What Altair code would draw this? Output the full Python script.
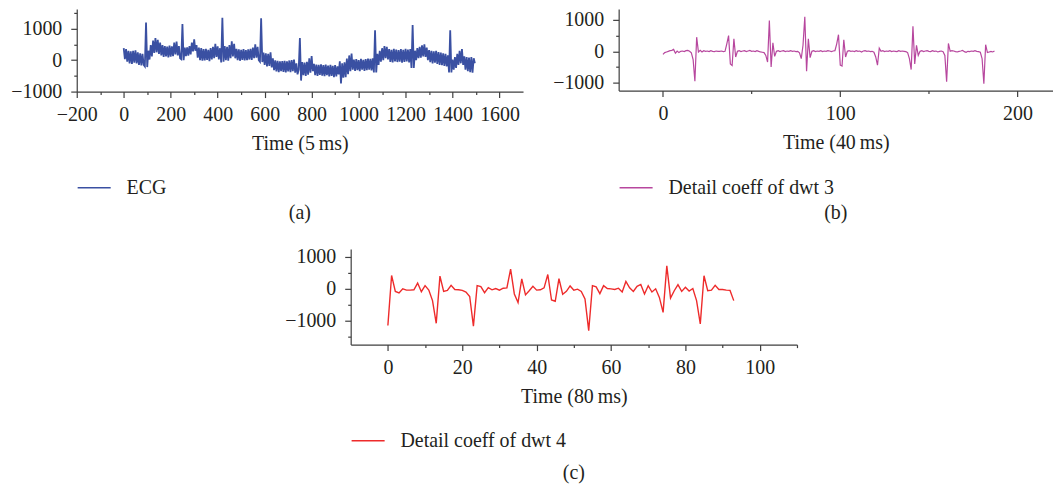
import altair as alt
import pandas as pd

# ---------------- data ----------------
# (a) ECG, one value every 5 samples
ecg_step = 5
ecg_values = [
    380, 30, 350, -50, 300, -100, 280, -120, 300, -80,
    310, -100, 250, -150, 220, -170, 200, -150, -200, 1200,
    -220, 300, 20, 480, 120, 620, 230, 700, 250, 650,
    200, 560, 150, 480, 100, 450, 120, 430, 90, 460,
    110, 440, 130, 560, 180, 590, 150, 450, 60, 30,
    1150, 0, 400, 130, 410, 140, 450, 180, 560, 280,
    660, 300, 480, 80, 400, 0, 380, -20, 350, -10,
    360, 10, 330, -30, 380, 20, 420, 60, 520, 100,
    440, 20, 380, -70, 1350, -50, 450, 0, 420, -20,
    480, 60, 600, 120, 520, 60, 360, 0, 340, -20,
    330, 10, 350, -10, 320, 0, 340, 20, 360, 10,
    400, 60, 500, 80, 420, 0, -50, 1330, -60, 240,
    -150, 220, -200, 200, -180, 250, -230, 60, -320, -10,
    -360, -20, -380, -40, -350, -30, -370, -20, -390, -40,
    -360, -10, -380, 0, -350, 20, -400, -100, -450, -300,
    700, -650, -60, -480, -80, -500, -50, -460, 60, -400,
    130, -350, -120, -480, -140, -500, -150, -470, -130, -490,
    -160, -510, -140, -480, -170, -520, -150, -500, -180, -540,
    -160, -520, -200, -450, -40, -740, -100, -560, -70, -540,
    50, -450, 150, -350, 210, -300, 20, -340, 30, -320,
    0, -350, 40, -300, 10, -340, 30, -320, 50, -300,
    40, -330, 60, -390, 950, -390, 200, -150, 300, -50,
    380, 0, 450, 60, 420, 20, 350, -60, 330, -70,
    360, -40, 340, -60, 320, -50, 350, -80, 330, -60,
    360, -40, 340, -70, 350, -250, 1120, -250, 300, 0,
    380, 60, 420, 80, 470, 120, 500, 100, 400, 0,
    320, -60, 300, -100, 280, -80, 300, -120, 260, -150,
    240, -160, 220, -180, 200, -200, 150, -390, 950, -390,
    20, -300, 100, -250, 200, -150, 300, -100, 350, -150,
    120, -300, 100, -350, 80, -380, 100, -400, 60, -100,
]

# (b) detail coefficients of dwt level 3
dwt3_values = [
    -100, -40, -20, 0, 20, 30, 60, -60, 10, -40,
    0, 10, -10, 20, 30, 0, -50, -260, -950, 450,
    -20, 30, -20, 20, 0, 10, -10, 20, 0, -10,
    10, 0, 0, 10, -10, 0, 240, 500, -400, -450,
    400, -180, 0, 20, -10, 10, 20, -10, 10, 30,
    0, 10, -10, 20, 0, -20, -30, -40, -130, -340,
    980, -500, 270, -160, 0, 20, -10, 10, 20, -10,
    10, 0, 20, 0, 10, -10, 0, -50, -230, 200,
    1100, -630, 400, -200, 0, 20, -10, 10, 0, 20,
    -10, 10, 0, 20, 10, -10, 10, 20, 240, 530,
    -440, -470, 370, -180, 0, 20, 0, 10, -10, 20,
    0, 10, -20, 10, 20, 0, 10, -10, 0, -30,
    -180, -440, 100, 0, 20, -10, 10, 0, 20, -10,
    10, 0, -10, 20, 0, 10, 0, -10, -40, -230,
    -580, 800, -400, 190, -130, 0, 20, -10, 10, 20,
    0, -10, 20, 0, 10, -20, 0, 10, -10, -130,
    -970, 250, 0, 20, 10, -10, -20, 0, 10, 30,
    -10, -30, 0, -10, 10, 0, 20, 0, -10, -30,
    -230, -1030, 210, -40, -20, 0, -20, 10,
]

# (c) detail coefficients of dwt level 4
dwt4_values = [
    -1150, 420, -80, -130, 0, -40, -40, -30, 180, -90,
    100, -40, -370, -1080, 400, -80, -50, 110, -20, -30,
    -50, -100, -240, -1170, 100, 70, -120, 40, -30, 10,
    -40, 20, 30, 620, -160, -430, 310, -190, -60, 80,
    -40, -30, 30, 450, -350, -390, 320, -170, -80, 90,
    -40, -10, -80, -320, -1310, 100, 60, -150, 100, 10,
    0, -20, 20, -100, 230, 30, -80, 80, 140, -160,
    100, -100, 0, -270, -740, 720, -290, -60, 130, -80,
    50, -70, 10, -370, -1100, 410, -60, -40, 110, -20,
    -20, -40, -50, -370,
]

series_names = ["ECG", "Detail coeff of dwt 3", "Detail coeff of dwt 4"]
x_titles = ["Time (5\u2009ms)", "Time (40\u2009ms)", "Time (80\u2009ms)"]
captions = ["(a)", "(b)", "(c)"]
colors = ["#3a50a2", "#b7479e", "#ee2b2b"]

ecg_df = pd.DataFrame({"t": [i * ecg_step for i in range(len(ecg_values))],
                       "v": ecg_values, "s": series_names[0]})
dwt3_df = pd.DataFrame({"t": list(range(len(dwt3_values))), "v": dwt3_values,
                        "s": series_names[1]})
dwt4_df = pd.DataFrame({"t": list(range(len(dwt4_values))), "v": dwt4_values,
                        "s": series_names[2]})

FONT = "Liberation Serif"
TXT = "#231f20"
AXC = "#3f3f3f"


def panel(df, name, color, xdom, xticks, xmajor, ydom, yticks, w, h,
          xtitle, caption, legend_y, cap_offset, stroke_w):
    xtest = f"datum.value % {xmajor} === 0"
    ytest = "datum.value % 1000 === 0"
    xaxis = alt.Axis(
        values=xticks,
        labelExpr=f"{xtest} ? datum.label : ''",
        labelFontSize={"condition": {"test": xtest, "value": 20}, "value": 0},
        tickSize={"condition": {"test": xtest, "value": 6}, "value": 3},
        labelFont=FONT, labelColor=TXT,
        labelPadding=7, labelFlush=False, labelOverlap=False,
        title=xtitle, titlePadding=9, titleFont=FONT, titleFontSize=20,
        titleFontWeight="normal", titleColor=TXT, format="d",
    )
    yaxis = alt.Axis(
        values=yticks,
        labelExpr=f"{ytest} ? datum.label : ''",
        labelFontSize={"condition": {"test": ytest, "value": 20}, "value": 0},
        tickSize={"condition": {"test": ytest, "value": 6}, "value": 3},
        labelFont=FONT, labelColor=TXT,
        labelPadding=9, labelOverlap=False, title=None, format="d",
    )
    legend = alt.Legend(
        orient="none", legendX=0, legendY=legend_y, title=None,
        symbolType="stroke", symbolSize=1100, symbolStrokeWidth=1.5,
        labelFont=FONT, labelFontSize=20, labelColor=TXT, labelOffset=15,
        labelLimit=400, padding=0,
    )
    return alt.Chart(df).mark_line(strokeWidth=stroke_w).encode(
        x=alt.X("t:Q", scale=alt.Scale(domain=xdom, nice=False, zero=False), axis=xaxis),
        y=alt.Y("v:Q", scale=alt.Scale(domain=ydom, nice=False, zero=False), axis=yaxis),
        color=alt.Color("s:N", scale=alt.Scale(domain=[name], range=[color]), legend=legend),
    ).properties(
        width=w, height=h,
        title=alt.TitleParams(text=caption, orient="bottom", anchor="middle",
                              font=FONT, fontSize=20, fontWeight="normal",
                              color=TXT, offset=cap_offset),
    )


chart_a = panel(ecg_df, series_names[0], colors[0], [-200, 1700],
                list(range(-200, 1601, 100)), 200, [-1000, 1630],
                [-1000, -500, 0, 500, 1000, 1500], 448, 83,
                x_titles[0], captions[0], 162, 5, 1.8)
chart_b = panel(dwt3_df, series_names[1], colors[1], [-25, 220],
                [0, 50, 100, 150, 200], 100, [-1250, 1350],
                [-1000, -500, 0, 500, 1000], 436, 82,
                x_titles[1], captions[1], 162, 5, 1.2)
chart_c = panel(dwt4_df, series_names[2], colors[2], [-10, 110],
                list(range(0, 111, 10)), 20, [-1750, 1250],
                [-1500, -1000, -500, 0, 500, 1000], 448, 96,
                x_titles[2], captions[2], 175, 12, 1.4)

spacer = alt.Chart(pd.DataFrame({"q": [0]})).mark_point(opacity=0).encode(
    x=alt.X("q:Q", axis=None), y=alt.Y("q:Q", axis=None)
).properties(width=198, height=1)

top_row = alt.hconcat(chart_a, chart_b, spacing=29).resolve_scale(
    x="independent", y="independent", color="independent")
bottom_row = alt.hconcat(spacer, chart_c, spacing=10).resolve_scale(
    x="independent", y="independent", color="independent")

chart = alt.vconcat(top_row, bottom_row, spacing=23).resolve_scale(
    x="independent", y="independent", color="independent"
).properties(
    padding={"left": 2, "top": 0, "right": 0, "bottom": 0}
).configure(
    background="white"
).configure_view(
    stroke=None
).configure_axis(
    grid=False, domainColor=AXC, domainWidth=1.2, tickColor=AXC, tickWidth=1.2,
    labelFont=FONT, labelFontSize=20, labelColor=TXT,
    titleFont=FONT, titleFontSize=20, titleFontWeight="normal", titleColor=TXT,
).configure_legend(
    labelFont=FONT
).configure_title(
    font=FONT
)

chart.save("out.html", embed_options={"renderer": "svg", "actions": False})
